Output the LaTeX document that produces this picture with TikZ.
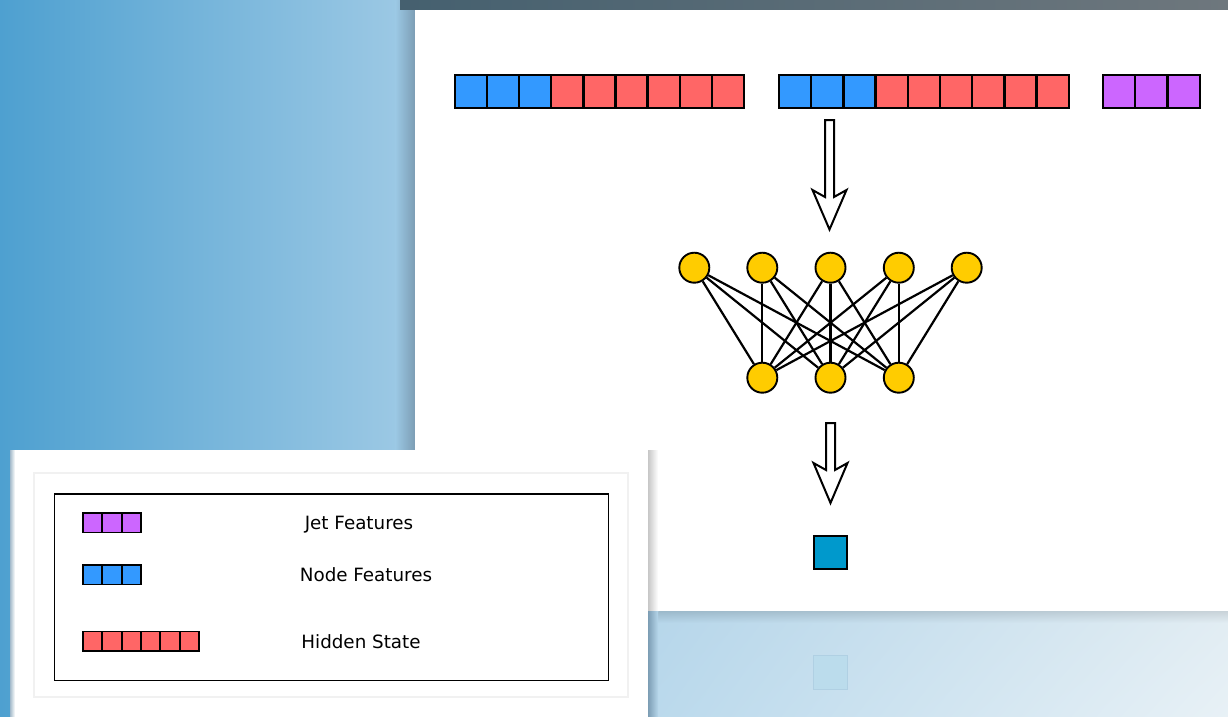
\documentclass[tikz,border=0pt]{standalone}
\usepackage{fontspec}
\usetikzlibrary{shadings}
\setmainfont{DejaVu Sans}
\definecolor{cblue}{HTML}{3399FF}
\definecolor{cred}{HTML}{FF6666}
\definecolor{cpurple}{HTML}{CC66FF}
\definecolor{cyellow}{HTML}{FFCC00}
\definecolor{cteal}{HTML}{0099CC}
\definecolor{bgL}{HTML}{4EA0D0}
\definecolor{bgR}{HTML}{9BC8E4}
\definecolor{bgS}{HTML}{7C9DB4}
\definecolor{topL}{HTML}{45606F}
\definecolor{topR}{HTML}{6E777D}
\definecolor{refA}{HTML}{9AB8CA}
\definecolor{refB}{HTML}{C9D3D9}
\definecolor{refC}{HTML}{B6D6EA}
\definecolor{refD}{HTML}{E2EDF3}
\definecolor{refE}{HTML}{BAD9EC}
\definecolor{refF}{HTML}{E8F1F6}
\definecolor{ghostfill}{HTML}{BBDCEC}
\definecolor{ghostline}{HTML}{B0D0E3}
\definecolor{faint}{HTML}{F1F1F1}
\begin{document}
\begin{tikzpicture}[x=1pt,y=-1pt,
  cell/.style={draw=black,line width=2.3pt,minimum width=#1,minimum height=33,inner sep=0pt,outer sep=0pt},
  lcell/.style={draw=black,line width=1.7pt,minimum width=19.33,minimum height=19.5,inner sep=0pt,outer sep=0pt},
  neuron/.style={circle,draw=black,line width=1.9pt,fill=cyellow,minimum size=30,inner sep=0pt},
  edge/.style={line width=2.2pt},
  blockarrow/.style={draw=black,line width=2pt,fill=white,line join=miter},
  legtext/.style={font=\fontsize{18.3}{22}\selectfont,anchor=base}]
\useasboundingbox (0,0) rectangle (1228,717);
% background
\shade[left color=bgL,right color=bgR] (0,0) rectangle (396,717);
\shade[left color=bgR,right color=bgS] (395.5,0) rectangle (415,611);
\shade[left color=topL,right color=topR] (400,0) rectangle (1228,10);
\fill[white] (415,10) rectangle (1228,611);
\shade[upper left=refA,upper right=refB,lower left=refC,lower right=refD] (648,611) rectangle (1228,623);
\shade[upper left=refC,upper right=refD,lower left=refE,lower right=refF] (648,623) rectangle (1228,717);
\draw[draw=ghostline,fill=ghostfill,line width=1pt] (813.5,655.5) rectangle (847.5,689.5);
% legend panel
\fill[white] (12,450) rectangle (648,717);
\shade[left color=black!22,right color=white] (648,450) rectangle (658,611);
\shade[left color=bgS,right color=refC] (648,611) rectangle (658,717);
\shade[left color=bgS!70!white,right color=white] (10,450) rectangle (15,717);
\draw[faint,line width=1.2pt] (34,473) rectangle (628,697);
\draw[black,line width=1.8pt] (54.5,494) rectangle (608.5,680.5);
% top bars
\foreach \i in {0,1,2} {
  \node[cell=32.1,fill=cblue] (a\i) at ({455+32.1*(\i+0.5)},91.5) {};
  \node[cell=32.2,fill=cblue] (b\i) at ({779+32.2*(\i+0.5)},91.5) {};
  \node[cell=32.3,fill=cpurple] (c\i) at ({1103+32.3*(\i+0.5)},91.5) {};
}
\foreach \i in {3,...,8} {
  \node[cell=32.1,fill=cred] (a\i) at ({455+32.1*(\i+0.5)},91.5) {};
  \node[cell=32.2,fill=cred] (b\i) at ({779+32.2*(\i+0.5)},91.5) {};
}
% arrow 1
\draw[blockarrow] (825,120) -- (825,197) -- (812.5,190) -- (829.5,229.5) -- (846.5,190) -- (834,197) -- (834,120) -- cycle;
% network
\foreach \n/\x in {1/694.3,2/762.3,3/830.5,4/898.8,5/966.7}
  \node[neuron] (t\n) at (\x,267.7) {};
\foreach \n/\x in {1/762.3,2/830.5,3/898.8}
  \node[neuron] (u\n) at (\x,377.7) {};
\foreach \i in {1,...,5} \foreach \j in {1,2,3} \draw[edge] (t\i) -- (u\j);
% arrow 2
\draw[blockarrow] (826,423) -- (826,470) -- (813.5,463) -- (830.5,503) -- (847.5,463) -- (835,470) -- (835,423) -- cycle;
% output
\node[draw=black,line width=2.2pt,fill=cteal,minimum size=33,inner sep=0pt] (out) at (830.5,552.5) {};
% legend
\foreach \i in {0,1,2} {
  \node[lcell,fill=cpurple] (lp\i) at ({83+19.33*(\i+0.5)},522.8) {};
  \node[lcell,fill=cblue] (lb\i) at ({83+19.33*(\i+0.5)},574.8) {};
}
\foreach \i in {0,...,5}
  \node[lcell,fill=cred] (lr\i) at ({83+19.33*(\i+0.5)},641.3) {};
\node[legtext] (tj) at (359,529.5) {Jet Features};
\node[legtext] (tn) at (366,581.5) {Node Features};
\node[legtext] (th) at (361,648) {Hidden State};
\end{tikzpicture}
\end{document}
